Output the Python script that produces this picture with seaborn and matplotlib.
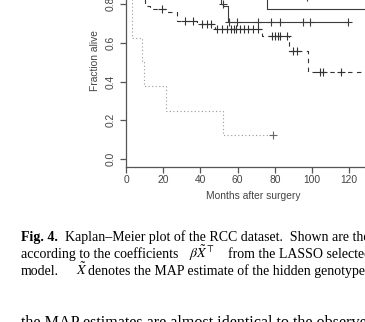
import numpy as np
import pandas as pd
import matplotlib
matplotlib.use("Agg")
import matplotlib.pyplot as plt
import seaborn as sns

# ---- data ----
# dotted group
t_dot = [0, 3.0, 8.4, 9.7, 21.5, 52.0, 79.0]
s_dot = [1.0, 0.625, 0.5, 0.375, 0.25, 0.125, 0.125]
c_dot = [79.0]
# dashed group
t_dash = [0, 4.0, 10.2, 12.9, 21.5, 27.3, 38.2, 47.8, 72.9, 87.8, 98.0, 140.0]
s_dash = [1.0, 0.9, 0.79, 0.775, 0.76, 0.715, 0.697, 0.67, 0.635, 0.56, 0.45, 0.45]
c_dash = [19.2, 31.7, 36.0, 40.7, 43.4, 45.5, 48.7, 51.6, 54.3, 56.5, 57.8, 59.3,
          61.2, 63.5, 65.8, 68.3, 71.1, 78.3, 80.1, 81.5, 82.8, 86.4, 89.9, 91.8,
          104.3, 106.1, 115.4]
# solid group A
t_solA = [0, 51.1, 52.3, 54.7, 119.2]
s_solA = [0.86, 0.80, 0.79, 0.71, 0.71]
c_solA = [52.0, 55.2, 59.8, 71.1, 77.8, 82.8, 95.3, 98.9, 119.2]
# solid group B
t_solB = [0, 75.6, 140.0]
s_solB = [0.83, 0.777, 0.777]
c_solB = []
# solid group C (mostly above the visible area)
t_solC = [0, 140.0]
s_solC = [0.836, 0.836]
c_solC = [97.3]

x_ticks = [0, 20, 40, 60, 80, 100, 120]
y_ticks = [0.0, 0.2, 0.4, 0.6, 0.8]
x_title = "Months after surgery"
y_title = "Fraction alive"

sns.set_style("ticks")
plt.rcParams['font.family'] = ['Liberation Sans', 'DejaVu Sans']
plt.rcParams['mathtext.fontset'] = 'stix'

W, H = 365, 322
fig = plt.figure(figsize=(W / 100, H / 100), dpi=100)
x0_px, y_bot_px, y_top_px, x_right_px = 126, 166.7, -42.2, 405
ax = fig.add_axes([x0_px / W, (H - y_bot_px) / H, (x_right_px - x0_px) / W,
                   (y_bot_px - y_top_px) / H])
ax.set_xlim(0, 150)
ax.set_ylim(-0.04, 1.04)


def level_at(times, surv, t):
    i = np.searchsorted(np.asarray(times), t, side='right') - 1
    return np.asarray(surv)[i]


curves = [
    (t_dot, s_dot, c_dot, '#9a9a9a', (0, (1, 2.2)), '#666666'),
    (t_dash, s_dash, c_dash, '#333333', (0, (4, 4)), '#333333'),
    (t_solA, s_solA, c_solA, '#3c3c3c', '-', '#3c3c3c'),
    (t_solB, s_solB, c_solB, '#3c3c3c', '-', '#3c3c3c'),
    (t_solC, s_solC, c_solC, '#3c3c3c', '-', '#3c3c3c'),
]
for times, surv, cens, col, ls, ccol in curves:
    df = pd.DataFrame({'t': times, 's': surv})
    sns.lineplot(data=df, x='t', y='s', drawstyle='steps-post', estimator=None,
                 sort=False, color=col, linewidth=0.8, linestyle=ls, ax=ax)
    if len(cens):
        cdf = pd.DataFrame({'t': cens, 's': [level_at(times, surv, c) for c in cens]})
        sns.scatterplot(data=cdf, x='t', y='s', marker='+', s=28, color=ccol,
                        linewidth=0.8, ax=ax, zorder=3)

for side in ['top', 'right']:
    ax.spines[side].set_visible(False)
for side in ['left', 'bottom']:
    ax.spines[side].set_color('#555555')
    ax.spines[side].set_linewidth(0.9)
ax.set_xticks(x_ticks)
ax.set_yticks(y_ticks)
ax.set_xticklabels([str(v) for v in x_ticks])
ax.set_yticklabels([f"{v:.1f}" for v in y_ticks])
ax.tick_params(axis='both', length=4.3, width=0.9, color='#555555',
               labelsize=7.4, labelcolor='#444444')
ax.tick_params(axis='x', pad=2)
ax.tick_params(axis='y', pad=3.5, labelrotation=90)
for lbl in ax.get_yticklabels():
    lbl.set_va('center')
ax.set_xlabel('')
ax.set_ylabel('')
ax.grid(False)

fig.text(252.8 / W, 1 - 195.7 / H, x_title, ha='center', va='center',
         fontsize=7.4, color='#444444')
fig.text(95 / W, 1 - 60.8 / H, y_title, ha='center', va='center', rotation=90,
         fontsize=7.4, color='#444444')

serif = ['Liberation Serif', 'DejaVu Serif']
fs = 10.0
caption = [
    (20.7, 240.5, "Fig. 4.", 'bold', fs),
    (65.0, 240.5, "Kaplan\u2013Meier plot of the RCC dataset.  Shown are the", 'normal', fs),
    (20.7, 258.0, "according to the coefficients", 'normal', fs),
    (189.0, 258.0, r"$\beta\tilde{X}^{\top}$", 'normal', fs),
    (228.0, 258.0, "from the LASSO selected", 'normal', fs),
    (20.7, 275.0, "model.", 'normal', fs),
    (76.0, 275.0, r"$\tilde{X}$", 'normal', fs),
    (88.0, 275.0, "denotes the MAP estimate of the hidden genotypes.", 'normal', fs),
    (20.7, 327.0, "the MAP estimates are almost identical to the observed", 'normal', 11.6),
]
for x, yb, txt, wt, size in caption:
    fig.text(x / W, 1 - yb / H, txt, ha='left', va='baseline', fontsize=size,
             family=serif, weight=wt, color='black')

fig.savefig("out.png", dpi=100)
